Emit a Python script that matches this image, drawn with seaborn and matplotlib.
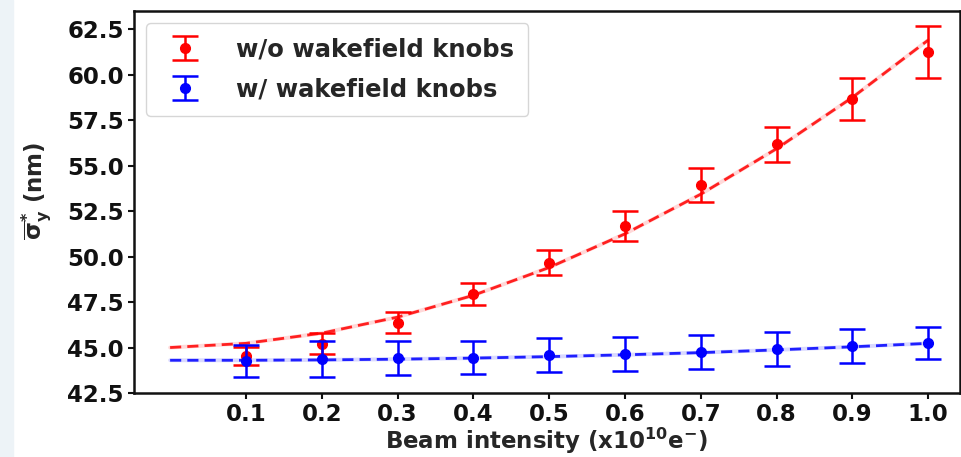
import matplotlib
matplotlib.use("Agg")
import matplotlib.pyplot as plt
import seaborn as sns
import numpy as np
import pandas as pd

# Data
intensity = [0.1, 0.2, 0.3, 0.4, 0.5, 0.6, 0.7, 0.8, 0.9, 1.0]
wo_knobs = [44.55, 45.22, 46.37, 47.94, 49.67, 51.68, 53.93, 56.18, 58.65, 61.24]
wo_err = [0.50, 0.57, 0.58, 0.60, 0.69, 0.82, 0.93, 0.96, 1.15, 1.43]
w_knobs = [44.26, 44.37, 44.42, 44.45, 44.59, 44.64, 44.75, 44.92, 45.08, 45.25]
w_err = [0.90, 0.98, 0.93, 0.93, 0.93, 0.93, 0.93, 0.93, 0.93, 0.88]

fit_x = [0.0, 0.1, 0.2, 0.3, 0.4, 0.5, 0.6, 0.7, 0.8, 0.9, 1.0]
fit_wo = [45.0, 45.23, 45.79, 46.67, 47.87, 49.40, 51.25, 53.43, 55.93, 58.75, 61.90]
fit_w = [44.30, 44.30, 44.32, 44.36, 44.42, 44.50, 44.60, 44.72, 44.87, 45.04, 45.23]

labels = ["w/o wakefield knobs", "w/ wakefield knobs"]
xticks = [0.1, 0.2, 0.3, 0.4, 0.5, 0.6, 0.7, 0.8, 0.9, 1.0]
yticks = [42.5, 45.0, 47.5, 50.0, 52.5, 55.0, 57.5, 60.0, 62.5]

sns.set_style("ticks")
plt.rcParams['font.family'] = ['DejaVu Sans']
plt.rcParams['font.weight'] = 'bold'
plt.rcParams['mathtext.default'] = 'bf'

FS = 16.5

fig = plt.figure(figsize=(9.62, 4.57), dpi=100)
fig.patches.append(plt.Rectangle((0, 0), 0.013, 1, transform=fig.transFigure,
                                 color="#edf3f7", zorder=-1))
ax = fig.add_axes([0.139, 0.140, 0.859, 0.836])

fit_df = pd.DataFrame({"x": fit_x + fit_x,
                       "y": fit_wo + fit_w,
                       "series": [labels[0]] * len(fit_x) + [labels[1]] * len(fit_x)})
for lab, col in zip(labels, ["red", "blue"]):
    sub = fit_df[fit_df.series == lab]
    sns.lineplot(data=sub, x="x", y="y", color=col, lw=2.8, alpha=0.15,
                 ax=ax, legend=False)
    sns.lineplot(data=sub, x="x", y="y", color=col, lw=2.0, alpha=0.85,
                 ax=ax, legend=False)
    ax.lines[-1].set_linestyle((0, (4, 2.2)))

ax.errorbar(intensity, wo_knobs, yerr=wo_err, fmt="o", color="red", ms=7,
            elinewidth=1.8, capthick=1.8, capsize=9.5, label=labels[0], zorder=5)
ax.errorbar(intensity, w_knobs, yerr=w_err, fmt="o", color="blue", ms=7,
            elinewidth=1.8, capthick=1.8, capsize=9.5, label=labels[1], zorder=6)

ax.set_xlim(-0.048, 1.042)
ax.set_ylim(42.5, 63.5)
ax.set_xticks(xticks)
ax.set_xticklabels([f"{v:.1f}" for v in xticks])
ax.set_yticks(yticks)
ax.set_yticklabels([f"{v:.1f}" for v in yticks])
ax.tick_params(labelsize=FS, length=4, width=1.5, colors="#111111", pad=3)
for s in ax.spines.values():
    s.set_linewidth(1.8)
    s.set_color("#111111")

ax.set_xlabel(r"Beam intensity ($\mathbf{x10^{10}e^{-}}$)", fontsize=FS,
              fontweight="bold", labelpad=0)
ax.set_ylabel(r"$\overline{\sigma}^{*}_{y}$ (nm)", fontsize=FS,
              fontweight="bold")
ax.yaxis.set_label_coords(-0.097, 0.53)

ax.legend(loc="upper left", prop={"size": 17.5, "weight": "bold"}, frameon=True,
          handlelength=2.0, borderpad=0.6, labelspacing=0.65,
          handletextpad=1.1, borderaxespad=0.5)

fig.savefig("out.png", dpi=100)
